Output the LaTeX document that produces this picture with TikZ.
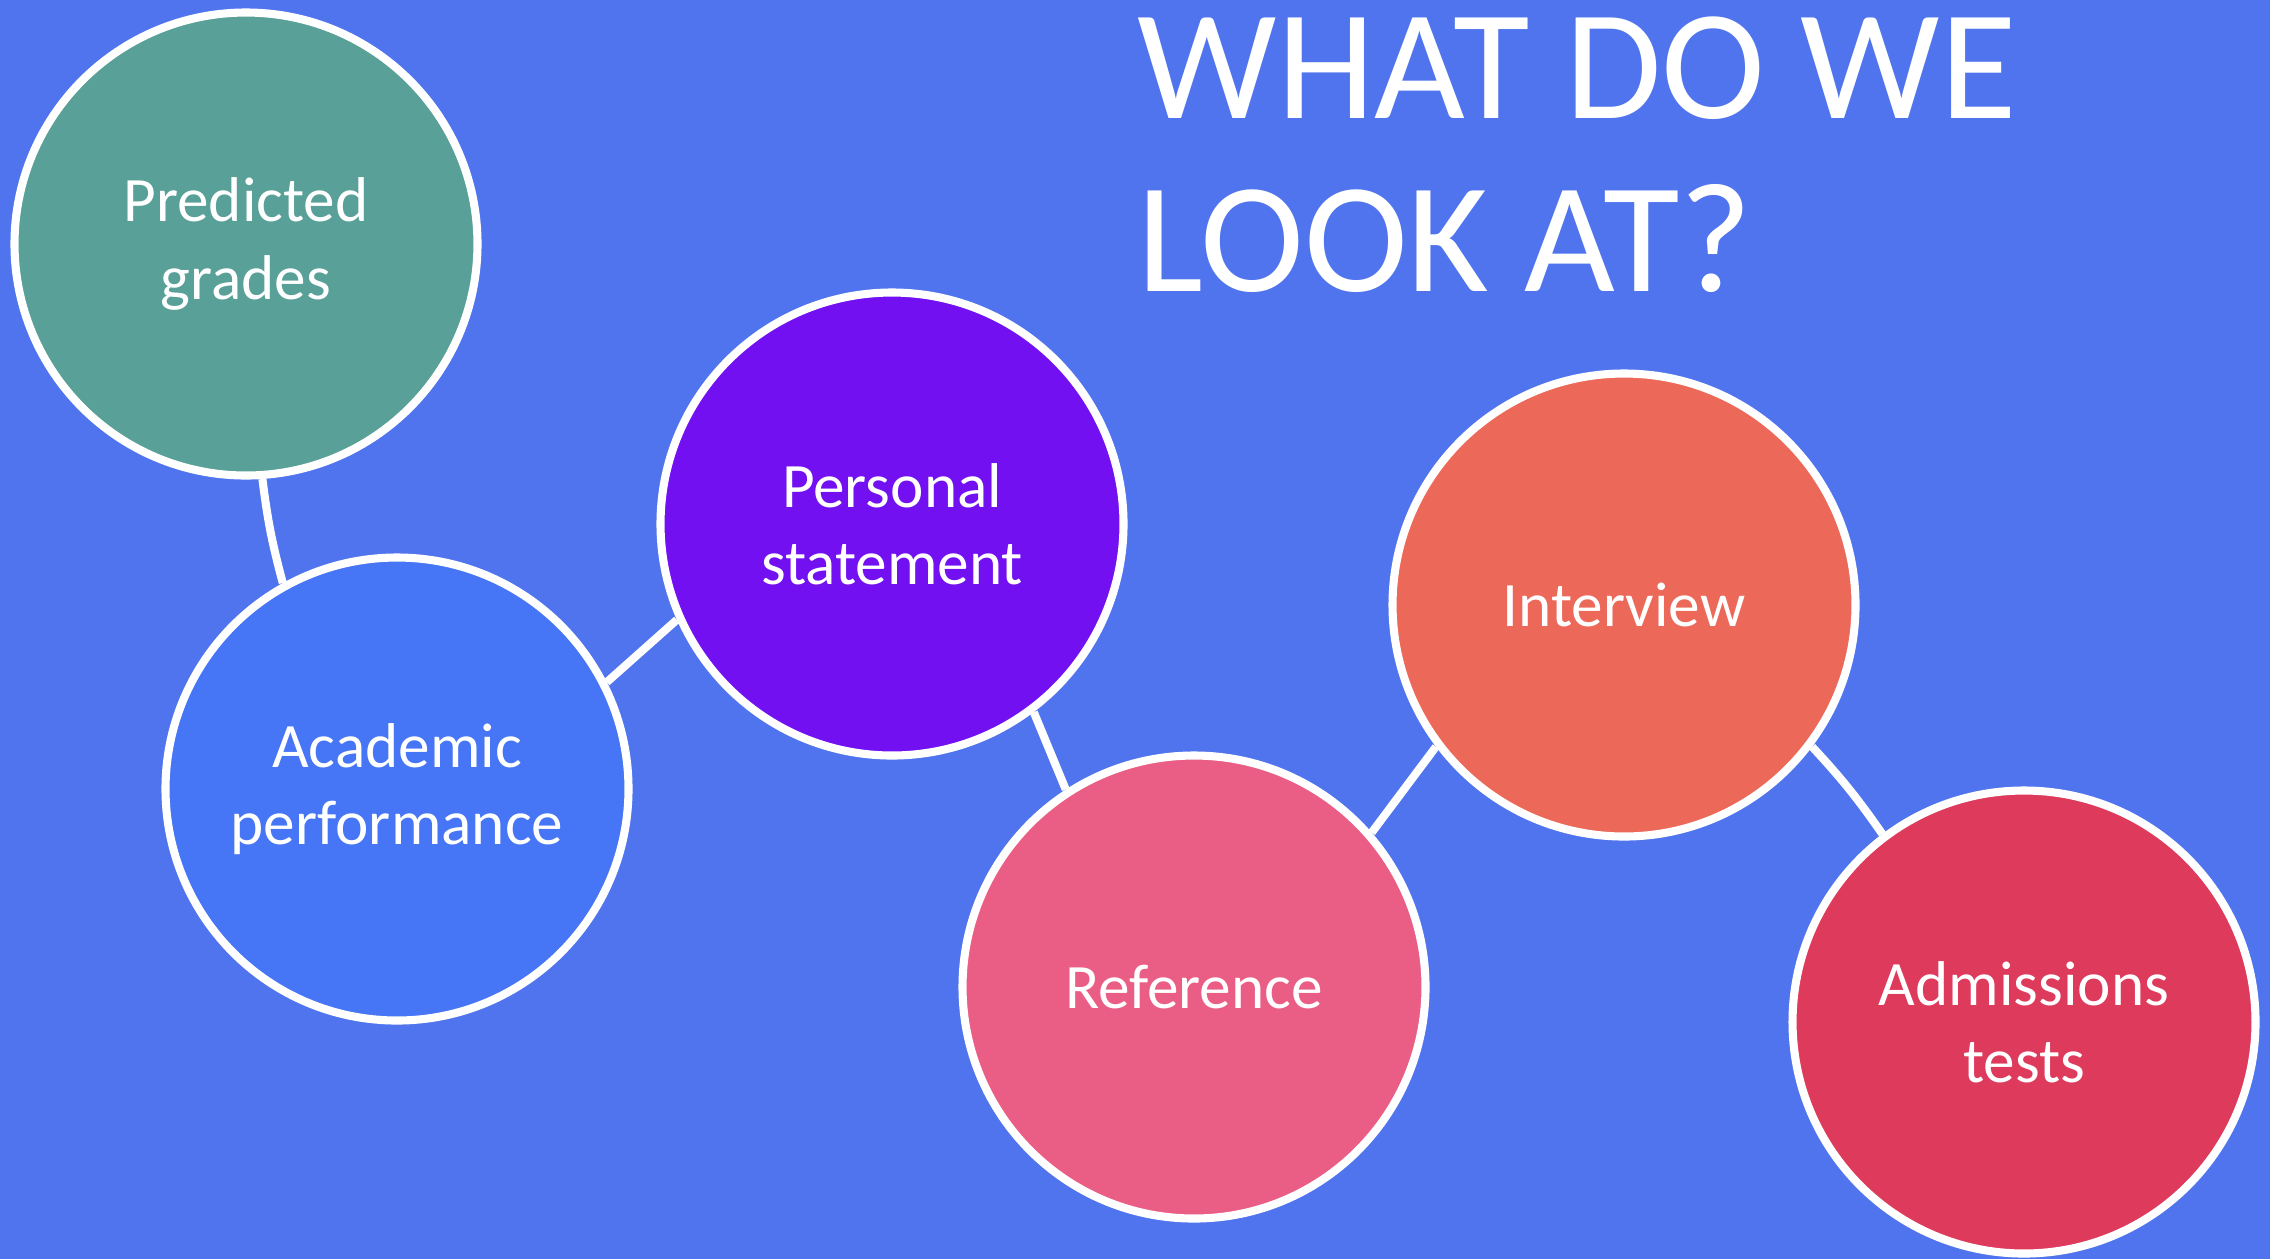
\documentclass[tikz,border=0pt]{standalone}
\usepackage{fontspec}
\setmainfont{Carlito}

\definecolor{sfondo}{RGB}{80,116,237}
\definecolor{verde}{RGB}{88,160,152}
\definecolor{azzurro}{RGB}{70,117,245}
\definecolor{viola}{RGB}{114,16,242}
\definecolor{rosa}{RGB}{234,94,133}
\definecolor{arancio}{RGB}{236,104,88}
\definecolor{rosso}{RGB}{221,58,92}

\tikzset{
    bolla/.style={circle, draw=white, line width=2.3pt, minimum size=4.63cm, inner sep=0pt,
        align=center, text=white, font=\fontsize{18}{22}\selectfont},
    legame/.style={draw=white, line width=2.3pt}
}

\begin{document}
\begin{tikzpicture}

        % =========================================
        % === SFONDO ===
        % =========================================
        \useasboundingbox (0,0) rectangle (22.7,-12.58);
        \fill[sfondo] (-0.1,0.1) rectangle (22.8,-12.7);

        % Titolo (base = riga inferiore)
        \node[anchor=base west, inner sep=0pt, align=left, text=white,
              font=\fontsize{44.6}{49.2}\selectfont] (titolo) at (11.37,-2.91) {WHAT DO WE\\LOOK AT?};

        % =========================================
        % === BOLLE ===
        % =========================================
        \node[bolla, fill=verde] (pg) at (2.46,-2.44) {Predicted\\grades};
        \node[bolla, fill=azzurro] (ap) at (3.97,-7.89) {Academic\\performance};
        \node[bolla, fill=viola] (ps) at (8.92,-5.24) {Personal\\statement};
        \node[bolla, fill=rosa] (rf) at (11.94,-9.87) {Reference};
        \node[bolla, fill=arancio] (iv) at (16.24,-6.05) {Interview};
        \node[bolla, fill=rosso] (at) at (20.24,-10.22) {Admissions\\tests};

        % Legami tra le bolle
        \draw[legame] (pg.274) to[bend right=4] (ap.119);
        \draw[legame] (ap.27) -- (ps.204);
        \draw[legame] (ps.307) -- (rf.123);
        \draw[legame] (rf.41) -- (iv.217);
        \draw[legame] (iv.323) to[bend left=4] (at.127);

\end{tikzpicture}
\end{document}
